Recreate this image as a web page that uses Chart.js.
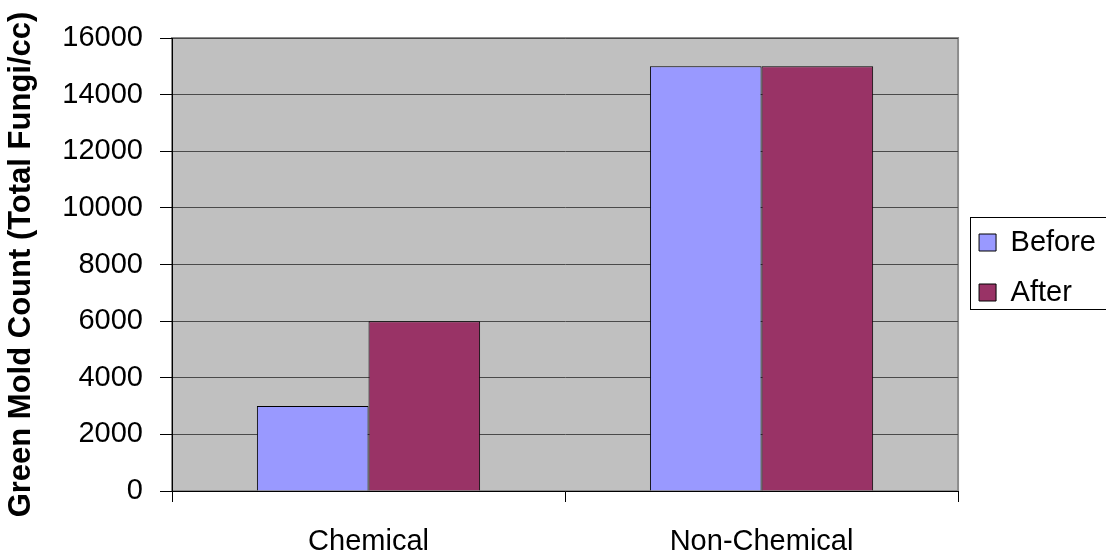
<!DOCTYPE html>
<html>
<head>
<meta charset="utf-8">
<script src="https://cdn.jsdelivr.net/npm/chart.js@4/dist/chart.umd.min.js"></script>
<style>
  html, body { margin: 0; padding: 0; background: #fff; }
</style>
</head>
<body>
<canvas id="moldChart" width="1106" height="559"></canvas>
<script>
const categories = ["Chemical", "Non-Chemical"];
const before = [3000, 15000];
const after = [6000, 15000];
const yTicks = [0, 2000, 4000, 6000, 8000, 10000, 12000, 14000, 16000];

const font = "'Liberation Sans', Arial, sans-serif";

// grey plot area, legend nudged up to sit beside the plot middle, framed legend
const plotBg = {
  id: "plotBg",
  afterLayout(chart) {
    const l = chart.legend;
    l.top -= 31;
    l.bottom -= 31;
  },
  beforeDraw(chart) {
    const { ctx, chartArea: a } = chart;
    ctx.save();
    ctx.fillStyle = "#c0c0c0";
    ctx.fillRect(a.left, a.top, a.right - a.left, a.bottom - a.top);
    ctx.strokeStyle = "#8c8c8c";
    ctx.lineWidth = 2;
    ctx.strokeRect(a.left, a.top, a.right - a.left, a.bottom - a.top);
    ctx.restore();
  },
  afterDraw(chart) {
    const ctx = chart.ctx;
    const l = chart.legend;
    const hb = l.legendHitBoxes;
    if (!hb || !hb.length) return;
    const first = hb[0], last = hb[hb.length - 1];
    const x = Math.round(l.left + 12) + 0.5;
    const y = Math.round(first.top - 11) + 0.5;
    const h = Math.round(last.top + last.height + 2 - first.top + 11);
    ctx.save();
    ctx.strokeStyle = "#000";
    ctx.lineWidth = 1;
    ctx.strokeRect(x, y, 200, h);
    ctx.restore();
  }
};

new Chart(document.getElementById("moldChart"), {
  type: "bar",
  data: {
    labels: categories,
    datasets: [
      { label: "Before", data: before, backgroundColor: "#9999ff", borderColor: "#000", borderWidth: 1 },
      { label: "After", data: after, backgroundColor: "#993366", borderColor: "#000", borderWidth: 1 }
    ]
  },
  options: {
    responsive: false,
    animation: false,
    devicePixelRatio: 1,
    layout: { padding: { top: 38, left: 0, right: 0, bottom: 0 } },
    datasets: { bar: { barPercentage: 1, categoryPercentage: 0.568 } },
    plugins: {
      tooltip: { enabled: false },
      legend: {
        position: "right",
        align: "center",
        labels: {
          font: { family: font, size: 29 },
          color: "#000",
          boxWidth: 17,
          boxHeight: 17,
          padding: 21
        }
      }
    },
    scales: {
      x: {
        grid: { display: true, drawOnChartArea: false, color: "#000", tickLength: 11, offset: true },
        border: { color: "#000" },
        ticks: { font: { family: font, size: 29 }, color: "#000", padding: 23, maxRotation: 0, autoSkip: false },
        afterFit(s) { s.height = 68; }
      },
      y: {
        min: 0,
        max: 16000,
        afterBuildTicks(s) { s.ticks = yTicks.map(v => ({ value: v })); },
        grid: { color: "#4a4a4a", tickLength: 12, tickColor: "#000" },
        border: { color: "#000" },
        ticks: { font: { family: font, size: 29 }, color: "#000", padding: 17, callback: v => String(v) },
        title: {
          display: true,
          text: "Green Mold Count (Total Fungi/cc)",
          font: { family: font, size: 31, weight: "bold" },
          color: "#000",
          padding: { top: 3, bottom: 4 }
        },
        afterFit(s) { s.width = 172; }
      }
    }
  },
  plugins: [plotBg]
});
</script>
</body>
</html>
